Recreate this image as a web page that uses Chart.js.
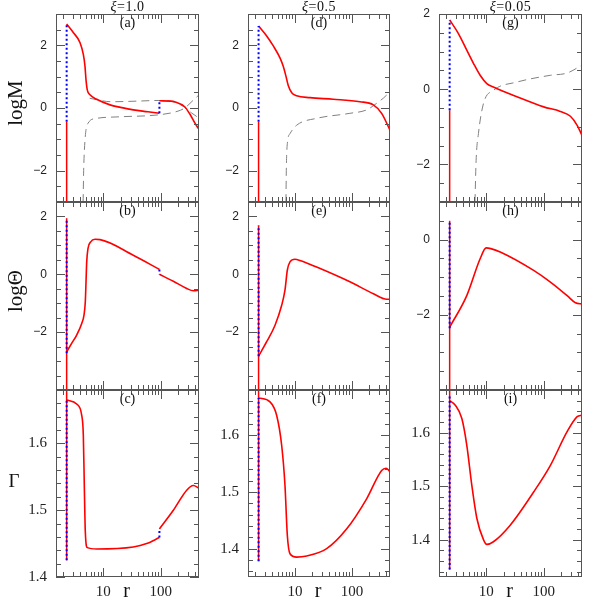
<!DOCTYPE html>
<html>
<head>
<meta charset="utf-8">
<script src="https://cdn.jsdelivr.net/npm/chart.js@4/dist/chart.umd.min.js"></script>
<style>
  body { margin: 0; background: #fff; }
  #wrap { position: relative; width: 599px; height: 599px; overflow: hidden; font-family: "Liberation Serif", serif; }
  #wrap canvas { position: absolute; }
  .lbl { position: absolute; white-space: nowrap; transform: translate(-50%, -50%); color: #111; }
</style>
</head>
<body>
<div id="wrap"></div>
<script>
/* ================= DATA ================= */
const xiLabels = ["1.0", "0.5", "0.05"];
const panelLetters = [["(a)", "(b)", "(c)"], ["(d)", "(e)", "(f)"], ["(g)", "(h)", "(i)"]];
const rowTitles = ["logM", "log\u0398", "\u0393"];

const rMin = 1.5, rMax = 465;
const rIn = 2.3;     // inner boundary (vertical segments)
const rShock = 95;   // shock in the xi=1.0 run

const xTickLabels = [10, 100];
const xTickMarks = [2, 3, 4, 5, 6, 7, 8, 9, 10, 20, 30, 40, 50, 60, 70, 80, 90, 100, 200, 300, 400];
const yTicksM = [-2, 0, 2];
const yTicksTheta = [-2, 0, 2];
const yTicksThetaLow = [-2, 0];
const yTicksGamma = [1.4, 1.5, 1.6];

// xi = 1.0
const aRed1 = [[2.3,2.68],[3.0,2.41],[3.92,2.09],[4.49,1.71],[4.8,1.33],[5.0,0.9],[5.26,0.58],[5.86,0.42],[7.67,0.28],[13.1,0.1],[20,0.02],[33.3,-0.06],[60,-0.12],[95,-0.17]];
const aRed2 = [[95,0.23],[150,0.22],[175,0.2],[262,0.04],[324,-0.2],[400,-0.5],[465,-0.68]];
const aDashUp = [[5.78,0.31],[13.8,0.2],[40,0.22],[90,0.24],[180,0.18],[262,0.02],[340,-0.15],[465,-0.32]];
const aDashLow = [[4.45,-3],[4.55,-2],[4.8,-1.03],[5.4,-0.49],[7.67,-0.33],[20,-0.28],[90,-0.22],[200,-0.1],[262,0],[370,0.25],[465,0.42]];
const aVertRed = [-3, -0.44], aVertBlue = [-0.44, 2.68], aJump = [-0.17, 0.23];

const bRed1 = [[2.3,-2.68],[2.81,-2.39],[3.44,-2.1],[4.21,-1.7],[4.61,-1.41],[4.86,-0.95],[5.0,-0.27],[5.14,0.42],[5.41,0.89],[6.03,1.12],[7.17,1.21],[8.77,1.2],[33.3,0.66],[95,0.17]];
const bRed2 = [[95,0.0],[166,-0.24],[284,-0.49],[370,-0.57],[465,-0.55]];
const bVertRed = [-4, 1.94], bVertBlue = [-2.73, 1.94], bJump = [0.17, 0.0];

const cRed1 = [[2.3,1.665],[3.44,1.659],[4.21,1.642],[4.49,1.612],[4.67,1.537],[4.86,1.468],[5.26,1.444],[7.67,1.442],[33.3,1.445],[57,1.45],[95,1.459]];
const cRed2 = [[95,1.472],[166,1.5],[284,1.53],[370,1.537],[465,1.533]];
const cVertRed = [1.425, 1.68], cVertBlue = [1.425, 1.666], cJump = [1.459, 1.472];

// xi = 0.5
const dRed = [[2.3,2.62],[3.19,2.3],[4.17,1.98],[5.46,1.6],[6.23,1.33],[6.96,1.01],[7.65,0.71],[8.77,0.49],[10.7,0.39],[18.4,0.33],[47,0.28],[138,0.2],[237,0.1],[332,-0.17],[465,-0.71]];
const dDash = [[6.95,-3],[7.05,-2],[7.34,-1.14],[8.18,-0.82],[10.7,-0.55],[24,-0.33],[92,-0.17],[181,-0.06],[271,0.15],[434,0.47],[465,0.55]];
const dVertRed = [-3, -0.44], dVertBlue = [-0.44, 2.62];

const eRed = [[2.3,-2.83],[3.19,-2.33],[4.47,-1.76],[5.85,-1.07],[6.68,-0.55],[7.34,0.14],[8.18,0.43],[10,0.52],[12.2,0.48],[24,0.25],[92,-0.26],[237,-0.67],[407,-0.86],[465,-0.86]];
const eVertRed = [-4, 1.69], eVertBlue = [-2.83, 1.69];

const fRed = [[2.3,1.666],[3.65,1.659],[4.78,1.635],[5.85,1.582],[6.68,1.512],[7.34,1.424],[8.18,1.391],[10.7,1.385],[16.1,1.387],[36,1.40],[81,1.435],[181,1.488],[332,1.538],[396,1.542],[465,1.536]];
const fVertRed = [1.378, 1.68], fVertBlue = [1.378, 1.666];

// xi = 0.05
const gRed = [[2.3,1.84],[3.27,1.48],[4.57,1.04],[5.97,0.69],[7.81,0.37],[10.2,0.15],[13.3,0.06],[34.2,-0.2],[100,-0.47],[195,-0.59],[292,-0.72],[383,-0.96],[465,-1.23]];
const gDash = [[6.35,-3],[6.65,-1.89],[7.3,-1.18],[8.93,-0.38],[13.3,-0.03],[34.2,0.19],[131,0.37],[256,0.43],[465,0.64]];
const gVertRed = [-3, -0.56], gVertBlue = [-0.56, 1.84];

const hRed = [[2.3,-2.33],[4.57,-1.49],[7.81,-0.51],[9.96,-0.22],[12,-0.24],[17.5,-0.33],[66.8,-0.82],[131,-1.13],[256,-1.49],[358,-1.68],[465,-1.71]];
const hVertRed = [-4, 0.5], hVertBlue = [-2.36, 0.47];

const iRed = [[2.3,1.66],[2.86,1.652],[3.74,1.627],[4.57,1.577],[5.59,1.502],[6.84,1.44],[8.93,1.40],[10.2,1.391],[13.3,1.396],[26.1,1.427],[66.8,1.489],[131,1.539],[256,1.602],[383,1.63],[465,1.633]];
const iVertRed = [1.344, 1.68], iVertBlue = [1.344, 1.668];

/* ================= LAYOUT ================= */
const cols = [{ L: 56, R: 199 }, { L: 248, R: 390 }, { L: 439, R: 582 }];
const rows = [{ T: 14, B: 202 }, { T: 202, B: 390 }, { T: 390, B: 577 }];
const YW = 44, PADT = 8, PADR = 4, XH = 24;

const toXY = arr => arr.map(p => ({ x: p[0], y: p[1] }));
const vert = (r, ys) => ys.map(v => ({ x: r, y: v }));

function curve(arr, color, dash) {
  return {
    data: toXY(arr), borderColor: color, borderWidth: dash ? 1 : 1.6,
    borderDash: dash || [], pointRadius: 0, cubicInterpolationMode: "monotone",
    order: dash ? 3 : 1
  };
}
function segRed(r, ys) {
  return { data: vert(r, ys), borderColor: "#ff0000", borderWidth: 1.5, pointRadius: 0, tension: 0, order: 2 };
}
function segBlue(r, ys) {
  return { data: vert(r, ys), borderColor: "#0000ff", borderWidth: 2, borderDash: [2, 2.5], pointRadius: 0, tension: 0, order: 0 };
}

const RED = "#ff0000", GREY = "#808080", DASH = [8, 5];

const panels = [
  // column 0 : xi = 1.0
  [
    { y: [-3, 3], ticks: yTicksM, minor: 0.5, major: 2, sets: [
        curve(aRed1, RED), curve(aRed2, RED), curve(aDashUp, GREY, DASH), curve(aDashLow, GREY, DASH),
        segRed(rIn, aVertRed), segBlue(rIn, aVertBlue), segBlue(rShock, aJump)] },
    { y: [-4, 2.5], ticks: yTicksTheta, minor: 0.5, major: 2, sets: [
        curve(bRed1, RED), curve(bRed2, RED), segRed(rIn, bVertRed), segBlue(rIn, bVertBlue), segBlue(rShock, bJump)] },
    { y: [1.4, 1.68], ticks: yTicksGamma, minor: 0.02, major: 0.1, sets: [
        curve(cRed1, RED), curve(cRed2, RED), segRed(rIn, cVertRed), segBlue(rIn, cVertBlue), segBlue(rShock, cJump)] }
  ],
  // column 1 : xi = 0.5
  [
    { y: [-3, 3], ticks: yTicksM, minor: 0.5, major: 2, sets: [
        curve(dRed, RED), curve(dDash, GREY, DASH), segRed(rIn, dVertRed), segBlue(rIn, dVertBlue)] },
    { y: [-4, 2.5], ticks: yTicksTheta, minor: 0.5, major: 2, sets: [
        curve(eRed, RED), segRed(rIn, eVertRed), segBlue(rIn, eVertBlue)] },
    { y: [1.35, 1.68], ticks: yTicksGamma, minor: 0.02, major: 0.1, sets: [
        curve(fRed, RED), segRed(rIn, fVertRed), segBlue(rIn, fVertBlue)] }
  ],
  // column 2 : xi = 0.05
  [
    { y: [-3, 2], ticks: yTicksM, minor: 0.5, major: 2, sets: [
        curve(gRed, RED), curve(gDash, GREY, DASH), segRed(rIn, gVertRed), segBlue(rIn, gVertBlue)] },
    { y: [-4, 1], ticks: yTicksThetaLow, minor: 0.5, major: 2, sets: [
        curve(hRed, RED), segRed(rIn, hVertRed), segBlue(rIn, hVertBlue)] },
    { y: [1.33, 1.68], ticks: yTicksGamma, minor: 0.02, major: 0.1, sets: [
        curve(iRed, RED), segRed(rIn, iVertRed), segBlue(rIn, iVertBlue)] }
  ]
];

/* ================= FRAME + INWARD TICKS ================= */
const framePlugin = {
  id: "frame",
  afterDatasetsDraw(chart, args, opts) {
    const { ctx, chartArea: a, scales: { x, y } } = chart;
    ctx.save();
    ctx.strokeStyle = "#555";
    ctx.lineWidth = 1;
    ctx.beginPath();
    xTickMarks.forEach(v => {
      const px = Math.round(x.getPixelForValue(v)) + 0.5;
      const len = xTickLabels.includes(v) ? 9 : 5;
      ctx.moveTo(px, a.top); ctx.lineTo(px, a.top + len);
      ctx.moveTo(px, a.bottom); ctx.lineTo(px, a.bottom - len);
    });
    const k0 = Math.ceil(opts.min / opts.minor - 1e-6);
    const k1 = Math.floor(opts.max / opts.minor + 1e-6);
    const per = Math.round(opts.major / opts.minor);
    for (let k = k0; k <= k1; k++) {
      const py = Math.round(y.getPixelForValue(k * opts.minor)) + 0.5;
      const len = (k % per === 0) ? 9 : 5;
      ctx.moveTo(a.left, py); ctx.lineTo(a.left + len, py);
      ctx.moveTo(a.right, py); ctx.lineTo(a.right - len, py);
    }
    ctx.stroke();
    ctx.strokeRect(a.left + 0.5, a.top + 0.5, a.width - 1, a.height - 1);
    ctx.restore();
  }
};

const fmtMinus = v => (v < 0 ? "\u2212" + Math.abs(v) : String(v));

function makePanel(ci, ri) {
  const p = panels[ci][ri];
  const c = cols[ci], r = rows[ri];
  const bottom = ri === 2;
  const w = YW + (c.R - c.L) + PADR;
  const h = PADT + (r.B - r.T) + (bottom ? XH : 4);
  const cv = document.createElement("canvas");
  cv.width = w; cv.height = h;
  cv.style.left = (c.L - YW) + "px";
  cv.style.top = (r.T - PADT) + "px";
  cv.style.width = w + "px"; cv.style.height = h + "px";
  document.getElementById("wrap").appendChild(cv);

  const serif = ri === 2;
  new Chart(cv.getContext("2d"), {
    type: "line",
    data: { datasets: p.sets },
    plugins: [framePlugin],
    options: {
      responsive: false,
      devicePixelRatio: 1,
      animation: false,
      layout: { padding: { top: PADT, right: PADR, bottom: bottom ? 0 : 4, left: 0 } },
      plugins: {
        legend: { display: false },
        tooltip: { enabled: false },
        frame: { min: p.y[0], max: p.y[1], minor: p.minor, major: p.major }
      },
      scales: {
        x: {
          type: "logarithmic", min: rMin, max: rMax, bounds: "data",
          display: bottom,
          grid: { display: false, drawTicks: false },
          border: { display: false },
          afterBuildTicks: s => { s.ticks = xTickLabels.map(v => ({ value: v })); },
          afterFit: s => {
            s.height = bottom ? XH : 0;
            s.paddingLeft = 0; s.paddingRight = 0;
          },
          ticks: {
            autoSkip: false, maxRotation: 0, padding: 6, color: "#222",
            font: { family: '"Liberation Serif", serif', size: 15 },
            callback: v => String(v)
          }
        },
        y: {
          type: "linear", min: p.y[0], max: p.y[1], bounds: "data",
          grid: { display: false, drawTicks: false },
          border: { display: false },
          afterBuildTicks: s => { s.ticks = p.ticks.map(v => ({ value: v })); },
          afterFit: s => {
            s.width = YW;
            s.paddingTop = 0; s.paddingBottom = 0;
          },
          ticks: {
            padding: 9, color: "#222",
            font: serif ? { family: '"Liberation Serif", serif', size: 15 }
                        : { family: '"Liberation Sans", sans-serif', size: 12 },
            callback: v => serif ? v.toFixed(1) : fmtMinus(v)
          }
        }
      }
    }
  });
}

/* ================= TEXT ================= */
function addText(html, x, y, css) {
  const d = document.createElement("div");
  d.className = "lbl";
  d.innerHTML = html;
  d.style.left = x + "px";
  d.style.top = y + "px";
  Object.assign(d.style, css || {});
  document.getElementById("wrap").appendChild(d);
}

for (let ci = 0; ci < 3; ci++) {
  for (let ri = 0; ri < 3; ri++) makePanel(ci, ri);
  const cx = (cols[ci].L + cols[ci].R) / 2;
  addText("<i>\u03be</i>=" + xiLabels[ci], cx, 7, { fontSize: "14px", letterSpacing: "0.5px" });
  panelLetters[ci].forEach((t, ri) => addText(t, cx, rows[ri].T + 9, { fontSize: "14px" }));
  addText("r", cx - 1, 590, { fontSize: "20px" });
}

addText(rowTitles[0], 15, 103, { fontSize: "21px", transform: "translate(-50%,-50%) rotate(-90deg)" });
addText(rowTitles[1], 15, 291, { fontSize: "21px", transform: "translate(-50%,-50%) rotate(-90deg)" });
addText(rowTitles[2], 14, 481, { fontSize: "19px" });
</script>
</body>
</html>
